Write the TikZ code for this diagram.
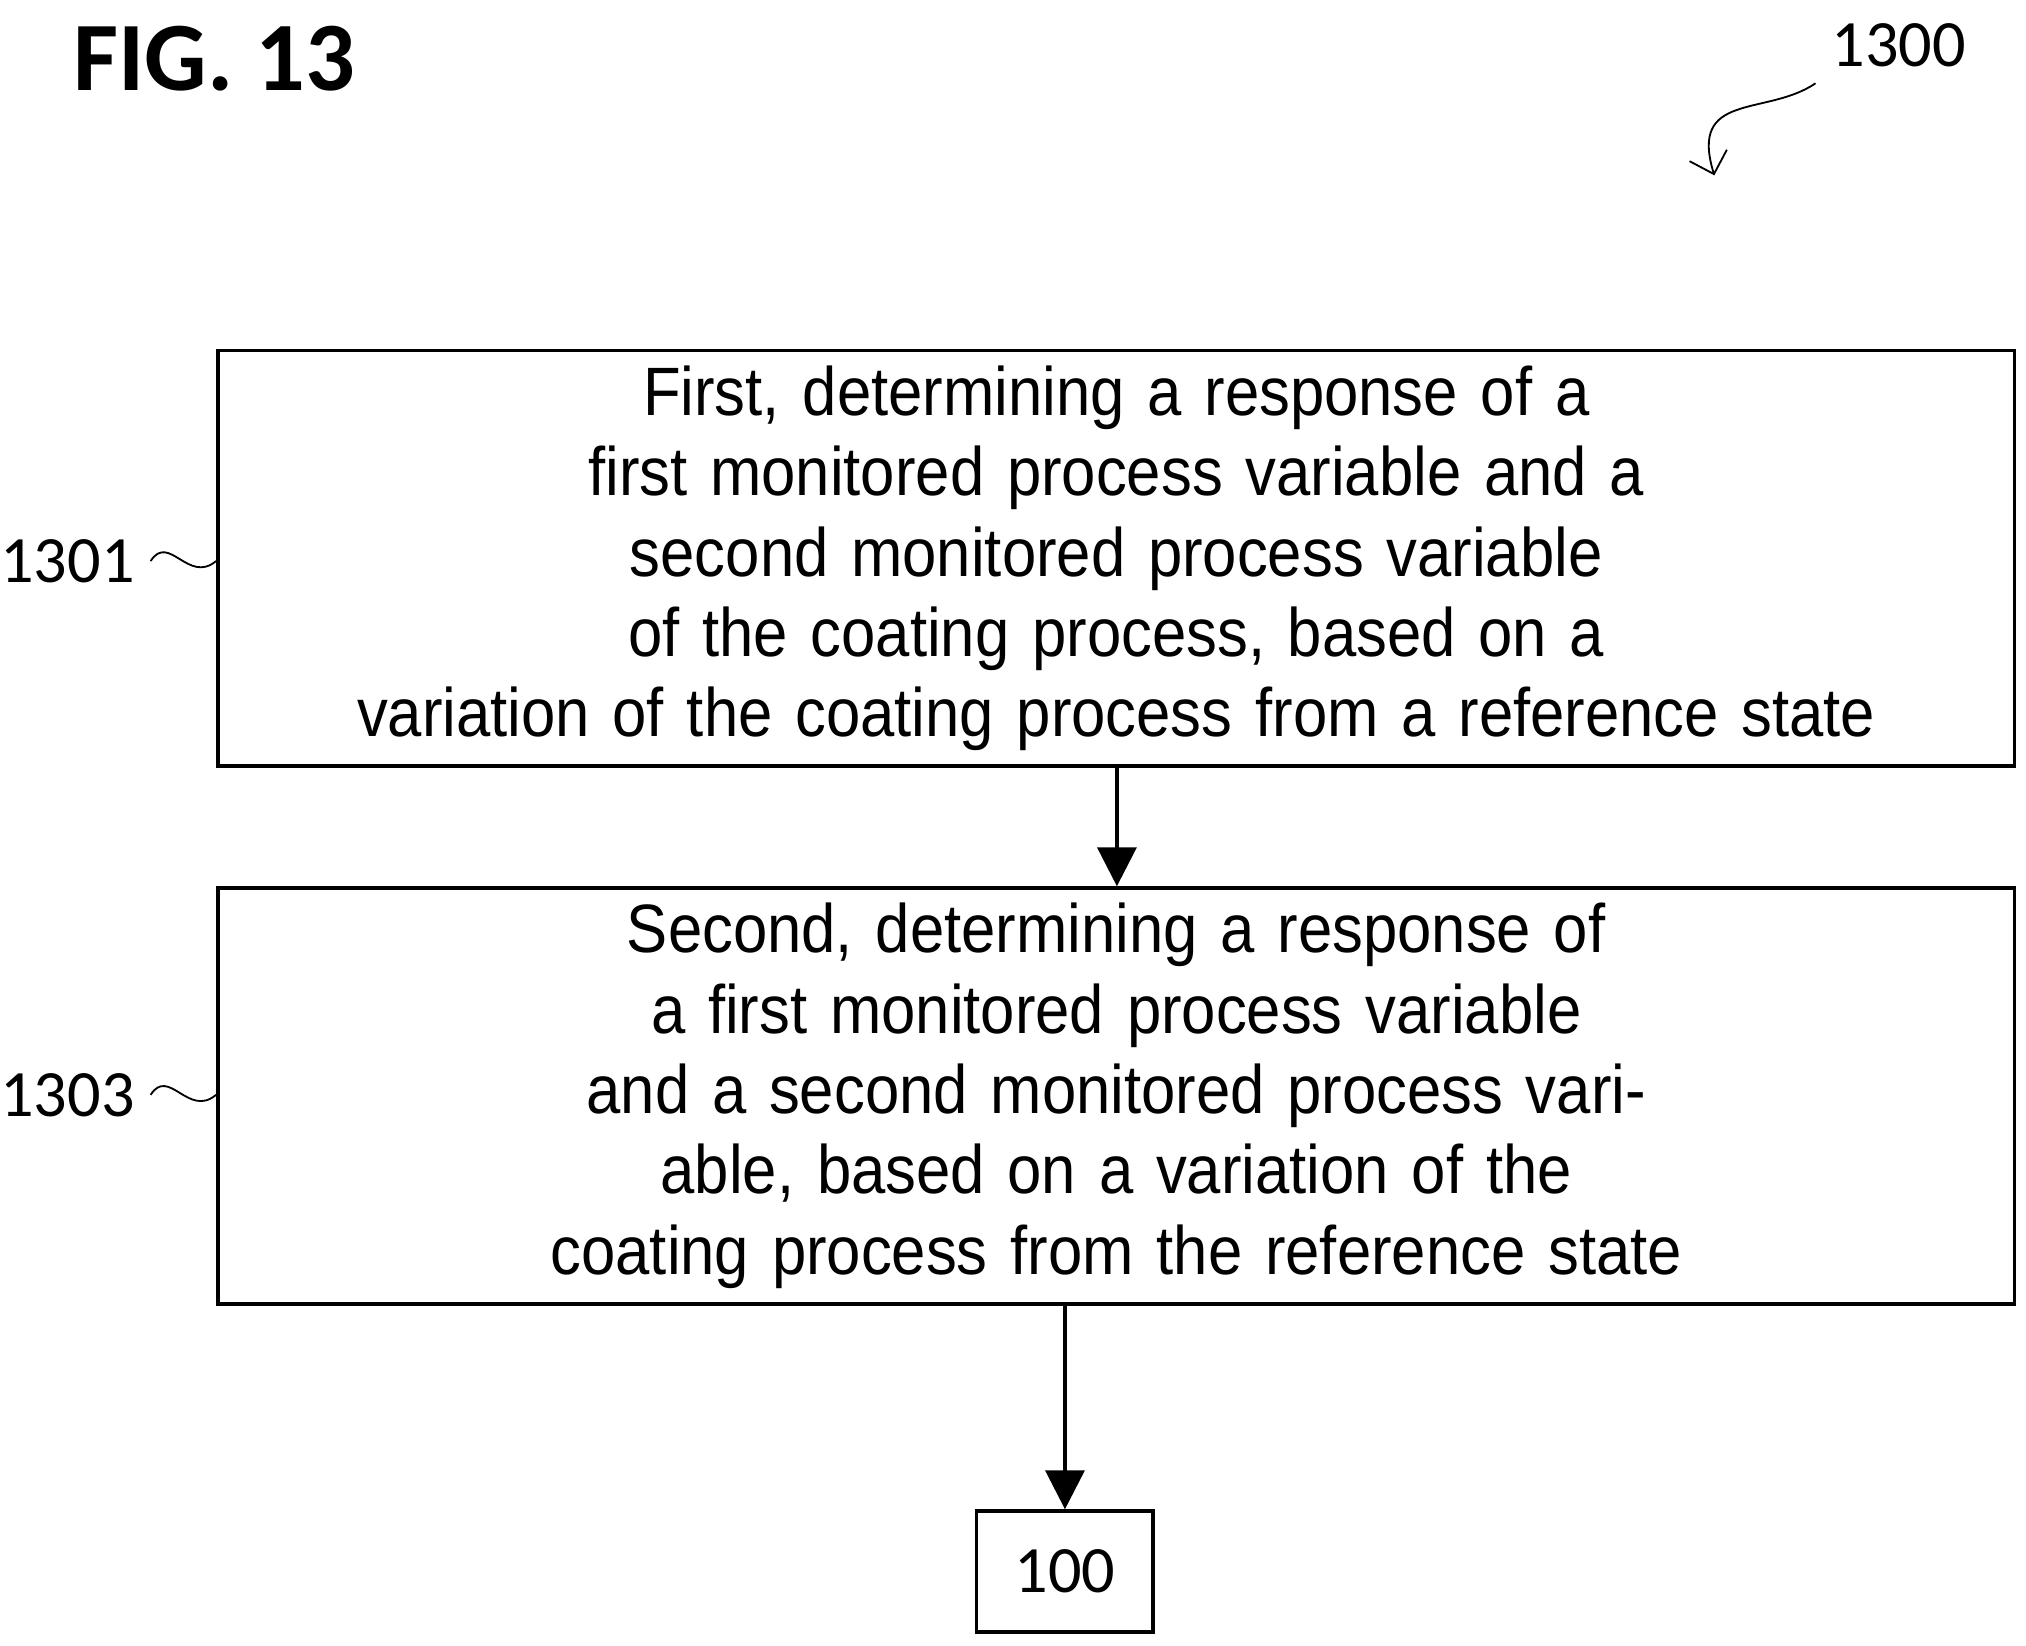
\documentclass[tikz,border=0pt]{standalone}
\usepackage{fontspec}
\setmainfont{Carlito}
\newfontfamily\narrowfont[FakeStretch=0.9]{Liberation Sans}
\usetikzlibrary{arrows.meta,positioning}
\tikzset{
  procbox/.style={draw, thick, minimum width=13.83cm, minimum height=3.2cm, text width=13.6cm, align=center, font=\narrowfont\fontsize{15}{17.6}\selectfont},
  lbl/.style={font=\fontsize{14.5}{17}\selectfont},
  flow/.style={thick, -{Triangle[length=0.3cm,width=0.3cm]}}
}
\begin{document}
\begin{tikzpicture}[x=1cm,y=-1cm]
\useasboundingbox (0,0) rectangle (15.6,12.67);
\node[anchor=west, font=\bfseries\fontsize{21.5}{24}\selectfont] (fig) at (0.44,0.45) {FIG. 13};
\node[lbl] (n1300) at (14.62,0.35) {1300};
\node (s1301) [procbox] at (8.595,4.3) {First, determining a response of a first monitored process variable and a\\ second monitored process variable of the coating process, based on a\\ variation of the coating process from a reference state};
\node (s1303) [procbox, below=0.91cm of s1301] {Second, determining a response of a first monitored process variable\\ and a second monitored process variable, based on a variation of the\\ coating process from the reference state};
\node (end) [draw, thick, minimum width=1.36cm, minimum height=0.93cm, font=\fontsize{14.5}{17}\selectfont] at (8.2,12.1) {100};
\node[lbl, anchor=east] (n1301) at (1.16,4.32) {1301};
\node[lbl, anchor=east] (n1303) at (1.16,8.43) {1303};
\coordinate (arr) at (13.2,1.35);
% connectors
\draw[flow] (s1301.south -| 8.6,0) -- (s1303.north -| 8.6,0);
\draw[flow] (s1303.south -| end) -- (end);
\draw[thin] (n1301.east) .. controls (1.3,4.1) and (1.45,4.5) .. (s1301.west |- n1301);
\draw[thin] (n1303.east) .. controls (1.3,8.21) and (1.45,8.61) .. (s1303.west |- n1303);
\draw[thin, -{Straight Barb[length=0.15cm]}] (n1300.south west) .. controls (13.6,0.9) and (13.0,0.7) .. (arr);
\end{tikzpicture}
\end{document}
